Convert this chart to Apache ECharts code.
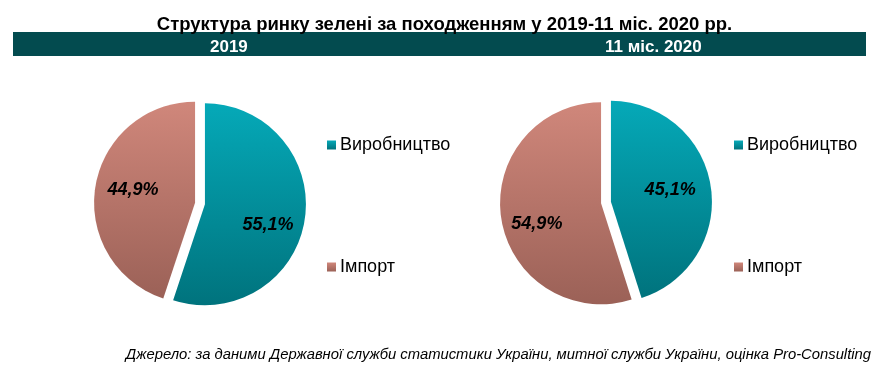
<!DOCTYPE html>
<html><head><meta charset="utf-8">
<script src="https://cdn.jsdelivr.net/npm/echarts@6/dist/echarts.min.js"></script>
<style>html,body{margin:0;padding:0;background:#fff}#c{width:889px;height:368px}</style>
</head><body><div id="c"></div>
<script>
const chartTitle = 'Структура ринку зелені за походженням у 2019-11 міс. 2020 рр.';
const periods = ['2019', '11 міс. 2020'];
const categories = ['Виробництво', 'Імпорт'];
const values2019 = [55.1, 44.9];
const values2020 = [45.1, 54.9];
const sourceNote = 'Джерело: за даними Державної служби статистики України, митної служби України, оцінка Pro-Consulting';

const SANS = "'Liberation Sans',Arial,sans-serif";
const grad = (a, b) => new echarts.graphic.LinearGradient(0, 0, 0, 1, [{offset: 0, color: a}, {offset: 1, color: b}]);
const colors = [grad('#05a9b8', '#00737d'), grad('#d0877b', '#9b6157')];

function pie(center, vals) {
  return {
    type: 'pie', center: center, radius: [0, 101], startAngle: 90, clockwise: true,
    selectedMode: 'multiple', selectedOffset: 5, animation: false, silent: true,
    label: {show: false}, labelLine: {show: false},
    data: categories.map((n, i) => ({name: n, value: vals[i], selected: true, itemStyle: {color: colors[i]}}))
  };
}
function labelPie(center, vals, offs) {
  return {
    type: 'pie', center: center, radius: [29, 101], startAngle: 90, clockwise: true,
    selectedMode: 'multiple', selectedOffset: 5, animation: false, silent: true,
    itemStyle: {color: 'rgba(0,0,0,0)'},
    label: {show: true, position: 'inside', formatter: p => p.value.toFixed(1).replace('.', ',') + '%',
      fontFamily: SANS, fontSize: 18, fontWeight: 'bold', fontStyle: 'italic', color: '#000'},
    labelLine: {show: false},
    labelLayout: p => ({dx: offs[p.dataIndex][0], dy: offs[p.dataIndex][1]}),
    data: categories.map((n, i) => ({name: n, value: vals[i], selected: true}))
  };
}
function legend(left) {
  return {
    orient: 'vertical', left: left, top: 131, itemWidth: 9, itemHeight: 9, itemGap: 104,
    icon: 'rect', selectedMode: false,
    textStyle: {fontFamily: SANS, fontSize: 18, color: '#000', padding: [0, 0, 0, -1]},
    data: categories.map((n, i) => ({name: n, itemStyle: {color: colors[i]}}))
  };
}
const chart = echarts.init(document.getElementById('c'), null, {renderer: 'canvas'});
chart.setOption({
  backgroundColor: '#fff',
  animation: false,
  title: [
    {text: chartTitle, left: 'center', top: 10, textStyle: {fontFamily: SANS, fontSize: 18.5, fontWeight: 'bold', color: '#000'}},
    {text: periods[0], left: 205, top: 34, textStyle: {fontFamily: SANS, fontSize: 17, fontWeight: 'bold', color: '#fff'}},
    {text: periods[1], left: 600, top: 34, textStyle: {fontFamily: SANS, fontSize: 17, fontWeight: 'bold', color: '#fff'}},
    {text: sourceNote, right: 13, top: 342, textStyle: {fontFamily: SANS, fontSize: 14.8, fontWeight: 'normal', fontStyle: 'italic', color: '#000'}}
  ],
  graphic: [{type: 'rect', z: -1, shape: {x: 13, y: 32, width: 853, height: 24}, style: {fill: '#034b4f'}}],
  legend: [legend(322), legend(729)],
  series: [pie([200, 203.5], values2019), labelPie([200, 203.5], values2019, [[-4, 10], [5, -2]]),
           pie([606, 202.5], values2020), labelPie([606, 202.5], values2020, [[-8, -1], [3, 10]])]
});
</script></body></html>
